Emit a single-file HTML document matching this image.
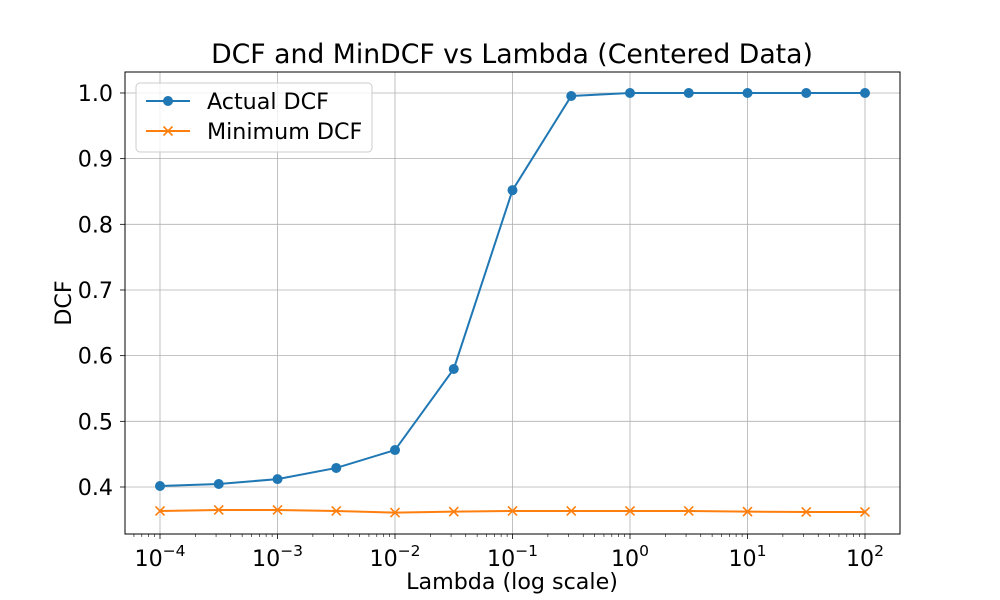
<!DOCTYPE html>
<html><head><meta charset="utf-8"><style>
body{margin:0;background:#fff}
svg{display:block;font-family:"DejaVu Sans","Liberation Sans",sans-serif}
</style></head><body>
<svg id="chart" width="1000" height="600" viewBox="0 0 1000 600">
<rect x="0" y="0" width="1000" height="600" fill="#fff"/>
<g id="grid"></g>
<g id="axes"></g>
<g id="series"></g>
<text x="512" y="63" text-anchor="middle" font-size="26.7">DCF and MinDCF vs Lambda (Centered Data)</text>
<text x="512" y="589" text-anchor="middle" font-size="22.2">Lambda (log scale)</text>
<text transform="translate(71,303) rotate(-90)" text-anchor="middle" font-size="22.2">DCF</text>
<g>
<rect x="136" y="83" width="236" height="69" rx="4" fill="#fff" fill-opacity="0.8" stroke="#ccc"/>
<g>
<line x1="146" y1="101" x2="190" y2="101" stroke="#1f77b4" stroke-width="2"/>
<circle cx="168" cy="101" r="5" fill="#1f77b4"/>
<text x="207" y="109" font-size="22.2">Actual DCF</text></g>
<g>
<line x1="146" y1="131" x2="190" y2="131" stroke="#ff7f0e" stroke-width="2"/>
<path d="M163.5 126.5L172.5 135.5M172.5 126.5L163.5 135.5" stroke="#ff7f0e" stroke-width="1.6"/>
<text x="207" y="139" font-size="22.2">Minimum DCF</text></g>
</g>
</svg>
<script>
const lambdaExp=[-4,-3.5,-3,-2.5,-2,-1.5,-1,-0.5,0,0.5,1,1.5,2];
const actualDCF=[0.4015,0.4046,0.412,0.429,0.4563,0.5797,0.852,0.9954,1.0,1.0,1.0,1.0,1.0];
const minDCF=[0.3635,0.365,0.365,0.3635,0.361,0.3625,0.3635,0.3635,0.3635,0.3635,0.3625,0.362,0.362];
const yTicks=[0.4,0.5,0.6,0.7,0.8,0.9,1.0];
const xTickExps=[-4,-3,-2,-1,0,1,2];
const L=125,R=900,T=72,B=534;
const xs=e=>160+(e+4)*117.5;
const ys=v=>487-(v-0.4)*656.7;
const NS="http://www.w3.org/2000/svg";
function mk(p,tag,a){const el=document.createElementNS(NS,tag);for(const k in a)el.setAttribute(k,a[k]);p.appendChild(el);return el;}
const grid=document.getElementById('grid'),axes=document.getElementById('axes'),ser=document.getElementById('series');
yTicks.forEach(v=>{const y=ys(v);
 const g=mk(grid,'line',{x1:L,x2:R,y1:y,y2:y,stroke:'#b0b0b0','stroke-width':0.8});
 
 
 mk(axes,'line',{x1:L-5,x2:L,y1:y,y2:y,stroke:'#000','stroke-width':0.8});
 const t=mk(axes,'text',{x:L-12,y:y+8,'text-anchor':'end','font-size':22.2});t.textContent=v.toFixed(1);
 
 
});
xTickExps.forEach(e=>{const x=xs(e);
 const g=mk(grid,'line',{x1:x,x2:x,y1:T,y2:B,stroke:'#b0b0b0','stroke-width':0.8});
 
 
 mk(axes,'line',{x1:x,x2:x,y1:B,y2:B+5,stroke:'#000','stroke-width':0.8});
 const t=mk(axes,'text',{x:x,y:B+32,'text-anchor':'middle','font-size':22.2});
 t.innerHTML='10<tspan dy="-10" font-size="15.5">'+(e<0?'\u2212'+(-e):e)+'</tspan>';
 
 
});
for(let d=-5;d<=2;d++)for(let m=2;m<=9;m++){const x=xs(d+Math.log10(m));if(x>L&&x<R)mk(axes,'line',{x1:x,x2:x,y1:B,y2:B+3,stroke:'#000','stroke-width':0.6});}
mk(axes,'rect',{x:L,y:T,width:R-L,height:B-T,fill:'none',stroke:'#000','stroke-width':1});
function line(vals,col,name){
 const p=mk(ser,'polyline',{points:vals.map((v,i)=>xs(lambdaExp[i])+','+ys(v)).join(' '),fill:'none',stroke:col,'stroke-width':2});
 
 
}
line(actualDCF,'#1f77b4','actual-dcf');
line(minDCF,'#ff7f0e','min-dcf');
actualDCF.forEach((v,i)=>{const c=mk(ser,'circle',{cx:xs(lambdaExp[i]),cy:ys(v),r:5,fill:'#1f77b4'});
 
 });
minDCF.forEach((v,i)=>{const x=xs(lambdaExp[i]),y=ys(v);
 const c=mk(ser,'path',{d:`M${x-4.5} ${y-4.5}L${x+4.5} ${y+4.5}M${x+4.5} ${y-4.5}L${x-4.5} ${y+4.5}`,stroke:'#ff7f0e','stroke-width':1.6});
 
 });
</script>
</body></html>
